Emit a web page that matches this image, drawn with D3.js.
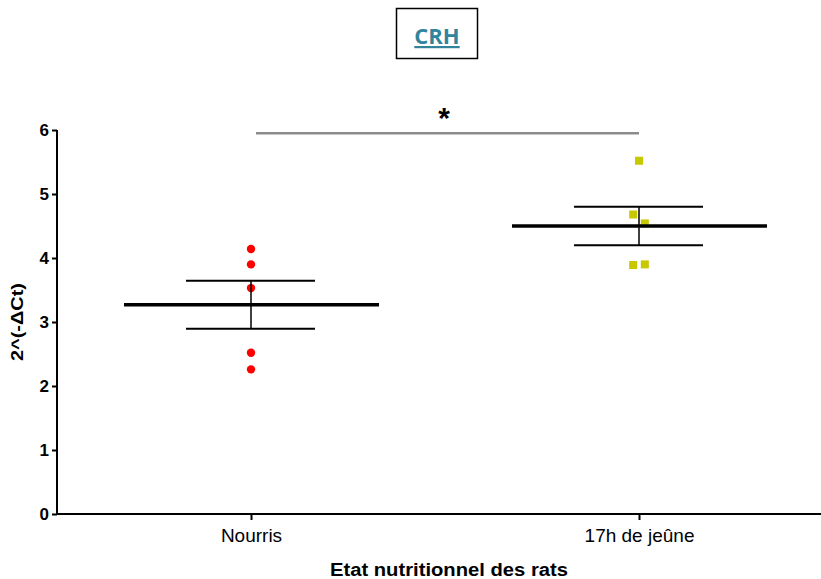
<!DOCTYPE html>
<html><head><meta charset="utf-8">
<script src="https://cdn.jsdelivr.net/npm/d3@7"></script>
<style>body{margin:0;background:#fff}svg{display:block}</style>
</head><body>
<script>
const categories = ["Nourris", "17h de jeûne"];
const nourrisValues = [4.14, 3.90, 3.53, 2.52, 2.26];
const jeuneValues = [5.52, 4.68, 4.54, 3.89, 3.90];
const jeuneJitter = [0, -1, 1, -1, 1];
const nourrisJitter = [0, 0, 0, 0, 0];
const means = [3.27, 4.50];
const sems = [0.375, 0.30];
const yTicks = [0, 1, 2, 3, 4, 5, 6];
const sigLevel = 5.95;
const titleText = "CRH";
const yLabel = "2^(-\u0394Ct)";
const xLabel = "Etat nutritionnel des rats";

const W = 821, H = 579;
const svg = d3.select("body").append("svg").attr("width", W).attr("height", H);
const font = "'Liberation Sans', Arial, sans-serif";

const x = d3.scalePoint().domain(categories).range([57, 833]).padding(0.5);
const y = d3.scaleLinear().domain([0, 6]).range([514, 130]);

// axes
const yAxis = svg.append("g").attr("transform", "translate(57,0)")
  .call(d3.axisLeft(y).tickValues(yTicks).tickSize(5).tickPadding(3).tickFormat(d3.format("d")));
yAxis.select(".domain").attr("stroke-width", 2).attr("d", `M0,${y(6)}V${y(0)+1}`);
yAxis.selectAll(".tick line").attr("stroke-width", 2);
yAxis.selectAll("text").attr("font-family", font).attr("font-weight", "bold").attr("font-size", 17).attr("fill", "#000");

const xAxis = svg.append("g").attr("transform", "translate(0,514)")
  .call(d3.axisBottom(x).tickSize(6).tickPadding(9));
xAxis.select(".domain").attr("stroke-width", 2).attr("d", `M56,0H833`);
xAxis.selectAll(".tick line").attr("stroke-width", 2);
xAxis.selectAll("text").attr("font-family", font).attr("font-size", 19).attr("fill", "#000");

// data points
const step = x.step();
const jit = 0.015;
svg.append("g").selectAll("circle").data(nourrisValues).join("circle")
  .attr("cx", (d, i) => x(categories[0]) + nourrisJitter[i] * jit * step)
  .attr("cy", d => y(d)).attr("r", 4.2).attr("fill", "#ff0000");
svg.append("g").selectAll("rect").data(jeuneValues).join("rect")
  .attr("x", (d, i) => x(categories[1]) + jeuneJitter[i] * jit * step - 4)
  .attr("y", d => y(d) - 4).attr("width", 8).attr("height", 8).attr("fill", "#c8c800");

// mean & sem
categories.forEach((c, i) => {
  const cx = x(c);
  const g = svg.append("g");
  g.append("line").attr("x1", cx).attr("x2", cx).attr("y1", y(means[i] + sems[i])).attr("y2", y(means[i] - sems[i]))
    .attr("stroke", "#000").attr("stroke-width", 1.5);
  [means[i] + sems[i], means[i] - sems[i]].forEach(v => {
    g.append("line").attr("x1", cx - 65).attr("x2", cx + 64).attr("y1", y(v)).attr("y2", y(v))
      .attr("stroke", "#000").attr("stroke-width", 2);
  });
  g.append("line").attr("x1", cx - 127).attr("x2", cx + 128).attr("y1", y(means[i])).attr("y2", y(means[i]))
    .attr("stroke", "#000").attr("stroke-width", 3.5);
});

// significance
svg.append("line").attr("x1", x(categories[0]) + 5).attr("x2", x(categories[1]))
  .attr("y1", y(sigLevel)).attr("y2", y(sigLevel)).attr("stroke", "#8c8c8c").attr("stroke-width", 2.5);
svg.append("text").attr("x", (x(categories[0]) + x(categories[1])) / 2 - 1).attr("y", y(sigLevel) - 5)
  .attr("text-anchor", "middle").attr("font-family", font).attr("font-weight", "bold").attr("font-size", 30)
  .text("*");

// title
svg.append("rect").attr("x", 396.5).attr("y", 8.5).attr("width", 81).attr("height", 50)
  .attr("fill", "none").attr("stroke", "#000").attr("stroke-width", 1.5);
svg.append("text").attr("x", 437).attr("y", 44).attr("text-anchor", "middle")
  .attr("font-family", "'Open Sans', 'Liberation Sans', sans-serif").attr("font-weight", "bold").attr("font-size", 22)
  .attr("fill", "#31849b").attr("text-decoration", "underline").text(titleText);

// axis titles
svg.append("text").attr("transform", `translate(23,${y(3)}) rotate(-90)`).attr("text-anchor", "middle")
  .attr("font-family", font).attr("font-weight", "bold").attr("font-size", 17)
  .attr("textLength", 78).attr("lengthAdjust", "spacingAndGlyphs").text(yLabel);
svg.append("text").attr("x", 449).attr("y", 576).attr("text-anchor", "middle")
  .attr("font-family", font).attr("font-weight", "bold").attr("font-size", 18)
  .attr("textLength", 238).attr("lengthAdjust", "spacingAndGlyphs").text(xLabel);
</script>
</body></html>
